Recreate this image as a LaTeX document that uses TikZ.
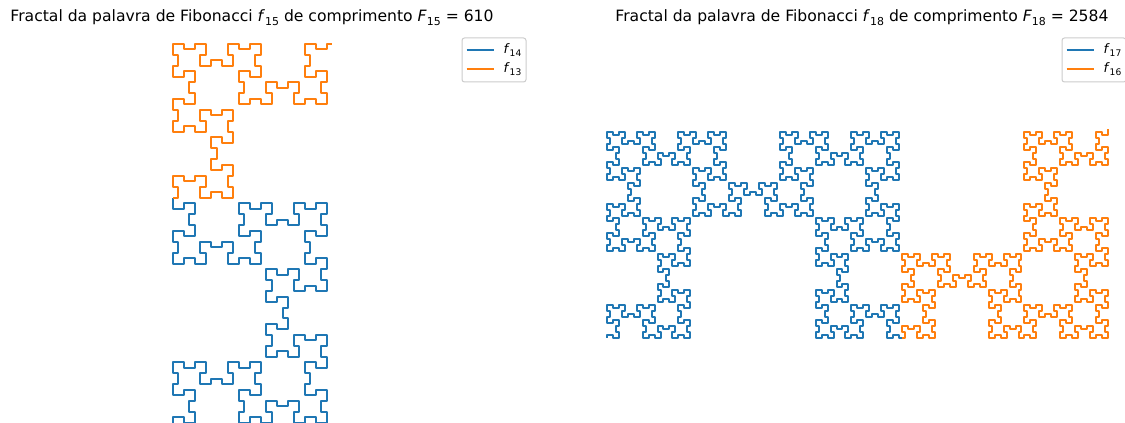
\documentclass[tikz,border=0pt]{standalone}
\usepackage{fontspec}
\setmainfont{DejaVu Sans}

\definecolor{fwblue}{HTML}{1F77B4}
\definecolor{fworange}{HTML}{FF7F0E}

% Fibonacci words f_1=1, f_2=0, f_n=f_{n-1}f_{n-2}
\def\fwa{1}\def\fwb{0}
\newcount\fwn \fwn=2
\loop\ifnum\fwn<18
  \advance\fwn 1
  \edef\fwc{\fwb\fwa}\let\fwa\fwb\let\fwb\fwc
  \expandafter\let\csname fwword\the\fwn\endcsname\fwb
\repeat

% turtle walk over a word
\newcount\fwk \newcount\fwx \newcount\fwy \newcount\fwdx \newcount\fwdy \newcount\fwt
\newcount\fwxmin \newcount\fwxmax \newcount\fwymin \newcount\fwymax
\newdimen\fwu \newdimen\fwox \newdimen\fwoy
\newif\iffwdraw

\def\fwinit#1#2{\global\fwk=0 \global\fwx=0 \global\fwy=0
  \global\fwdx=#1 \global\fwdy=#2
  \global\fwxmin=0 \global\fwxmax=0 \global\fwymin=0 \global\fwymax=0 }
\def\fwrun#1{\fwnext#1\relax}
\def\fwnext#1{\ifx\relax#1\else\fwstep#1\expandafter\fwnext\fi}
\def\fwstep#1{%
  \global\advance\fwk by 1
  \global\advance\fwx by \fwdx \global\advance\fwy by \fwdy
  \iffwdraw
    \pgfpathlineto{\pgfqpoint{\fwx\fwu}{\fwy\fwu}}%
  \else
    \ifnum\fwx<\fwxmin \global\fwxmin=\fwx\fi
    \ifnum\fwx>\fwxmax \global\fwxmax=\fwx\fi
    \ifnum\fwy<\fwymin \global\fwymin=\fwy\fi
    \ifnum\fwy>\fwymax \global\fwymax=\fwy\fi
  \fi
  \if0#1%
    \fwt=\fwdx
    \ifodd\fwk \global\fwdx=\fwdy \global\fwdy=-\fwt
    \else \global\fwdx=-\fwdy \global\fwdy=\fwt \fi
  \fi}

% measure word #1 from direction (#2,#3)
\newcommand\fwmeasure[3]{\fwinit{#2}{#3}\fwdrawfalse
  \edef\fwtmp{\csname fwword#1\endcsname}%
  \expandafter\fwrun\expandafter{\fwtmp}}
% unit and offset: left x, top y, width
\newcommand\fwfit[3]{\fwt=\fwxmax \advance\fwt by -\fwxmin
  \global\fwu=\dimexpr #3pt/\fwt\relax
  \global\fwox=#1pt \global\advance\fwox by -\fwxmin\fwu
  \global\fwoy=#2pt \global\advance\fwoy by -\fwymax\fwu}
% one piece of the curve, continuing the walk
\newcommand\fwpiece[2]{\fwdrawtrue
  \pgfpathmoveto{\pgfqpoint{\fwx\fwu}{\fwy\fwu}}%
  \edef\fwtmp{\csname fwword#2\endcsname}%
  \expandafter\fwrun\expandafter{\fwtmp}%
  \pgfsetstrokecolor{#1}\pgfusepath{stroke}}

\newcommand\fwsub[2]{\textit{#1}\raisebox{-0.2em}{\scalebox{0.7}{#2}}}

\tikzset{
  titletext/.style={font=\fontsize{15.6}{18}\selectfont, anchor=base, inner sep=0},
  legbox/.style={draw=black!20, fill=white, rounded corners=2.5pt, line width=1pt,
    minimum width=64, minimum height=44, inner sep=0},
  legline/.style={line width=2pt},
  leglab/.style={font=\fontsize{13}{15}\selectfont, anchor=west, inner sep=0}
}

\begin{document}
\begin{tikzpicture}[x=1pt, y=1pt]
\useasboundingbox (0,0) rectangle (1125,423);

% f_15 = f_14 f_13
\fwmeasure{15}{0}{1}
\fwfit{172.8}{379}{159.2}
\begin{scope}
  \pgftransformshift{\pgfqpoint{\fwox}{\fwoy}}
  \pgfsetlinewidth{2pt}\pgfsetroundjoin
  \fwinit{0}{1}
  \fwpiece{fwblue}{14}
  \fwpiece{fworange}{13}
\end{scope}

% f_18 = f_17 f_16
\fwmeasure{18}{0}{1}
\fwfit{606.8}{294}{501.2}
\begin{scope}
  \pgftransformshift{\pgfqpoint{\fwox}{\fwoy}}
  \pgfsetlinewidth{2pt}\pgfsetroundjoin
  \fwinit{0}{1}
  \fwpiece{fwblue}{17}
  \fwpiece{fworange}{16}
\end{scope}

\node[titletext] (titleA) at (252,401)
  {Fractal da palavra de Fibonacci \fwsub{f}{15} de comprimento \fwsub{F}{15} = 610};
\node[titletext] (titleB) at (862,401)
  {Fractal da palavra de Fibonacci \fwsub{f}{18} de comprimento \fwsub{F}{18} = 2584};

\node[legbox] (legA) at (494,363) {};
\draw[legline, fwblue] ([shift={(5,-12.5)}]legA.north west) -- ++(27,0)
  node[leglab, black, right=9pt] (labA1) {\fwsub{f}{14}};
\draw[legline, fworange] ([shift={(5,-31.5)}]legA.north west) -- ++(27,0)
  node[leglab, black, right=9pt] (labA2) {\fwsub{f}{13}};

\node[legbox] (legB) at (1094,363) {};
\draw[legline, fwblue] ([shift={(5,-12.5)}]legB.north west) -- ++(27,0)
  node[leglab, black, right=9pt] (labB1) {\fwsub{f}{17}};
\draw[legline, fworange] ([shift={(5,-31.5)}]legB.north west) -- ++(27,0)
  node[leglab, black, right=9pt] (labB2) {\fwsub{f}{16}};
\end{tikzpicture}
\end{document}
